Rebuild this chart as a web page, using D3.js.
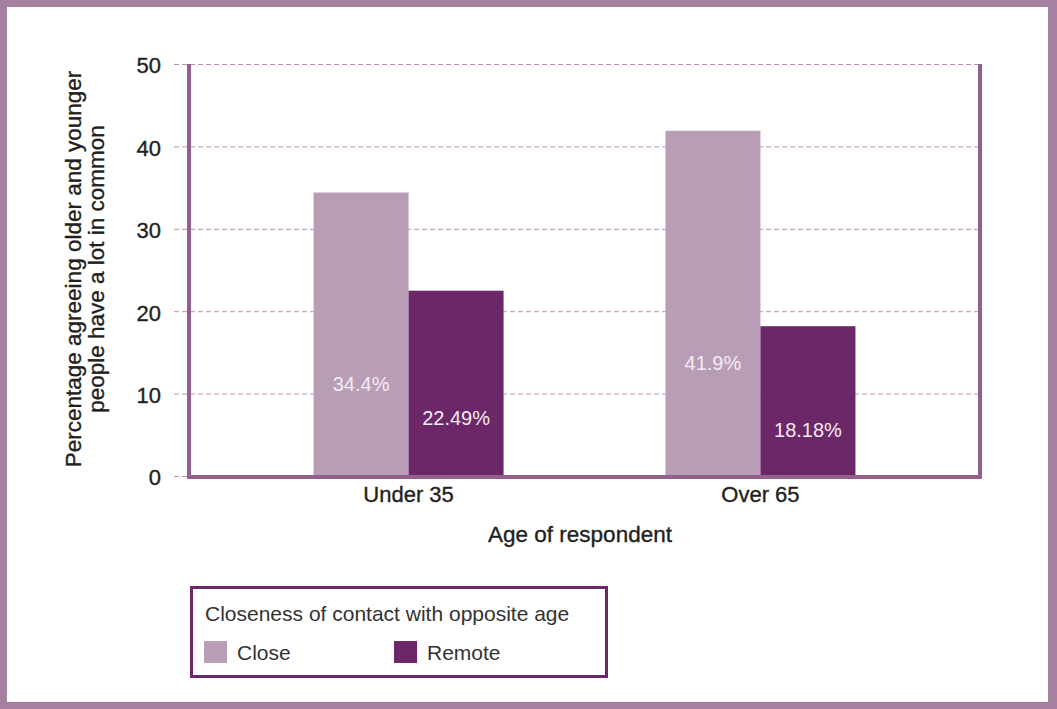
<!DOCTYPE html>
<html>
<head>
<meta charset="utf-8">
<script src="https://cdn.jsdelivr.net/npm/d3@7"></script>
<style>
  html, body { margin: 0; padding: 0; background: #fff; }
  svg { display: block; }
  text { font-family: "Liberation Sans", Arial, Helvetica, sans-serif; }
</style>
</head>
<body>
<svg id="chart" width="1057" height="709"></svg>
<script>
// Age groups on the x axis
const categories = ["Under 35", "Over 65"];
// Closeness of contact with the opposite age group
const seriesNames = ["Close", "Remote"];
// Percentage agreeing older and younger people have a lot in common
const closeValues = [34.4, 41.9];
const remoteValues = [22.49, 18.18];
const valueLabels = [["34.4%", "22.49%"], ["41.9%", "18.18%"]];
const yTicks = [0, 10, 20, 30, 40, 50];

const colors = { Close: "#b89db6", Remote: "#6b2767" };
const frameColor = "#935f8e";
const gridColor = "#b893b4";
const inkColor = "#231f20";

const W = 1057, H = 709;
const plot = { left: 189, right: 980, top: 64, bottom: 476 };

const svg = d3.select("#chart");

// page frame
svg.append("rect").attr("x", 0).attr("y", 0).attr("width", W).attr("height", H).attr("fill", "#a6819f");
svg.append("rect").attr("x", 7).attr("y", 7).attr("width", 1041).attr("height", 695).attr("fill", "#ffffff");

const rows = categories.map((c, i) => ({
  category: c,
  values: [
    { key: "Close", value: closeValues[i], label: valueLabels[i][0] },
    { key: "Remote", value: remoteValues[i], label: valueLabels[i][1] }
  ]
}));

const y = d3.scaleLinear().domain([0, 50]).range([plot.bottom, plot.top]);
const x0 = d3.scaleBand().domain(categories).range([plot.left, plot.right])
  .paddingInner(0.46).paddingOuter(0.354);
const x1 = d3.scaleBand().domain(seriesNames).range([0, x0.bandwidth()]).padding(0);

// dashed gridlines with tick labels
const gridLeft = 174;
const yAxis = d3.axisLeft(y).tickValues(yTicks).tickFormat(d3.format("d"))
  .tickSize(-(plot.right - gridLeft)).tickPadding(13);
const gy = svg.append("g").attr("transform", `translate(${gridLeft},0)`).call(yAxis);
gy.select(".domain").remove();
gy.selectAll(".tick line")
  .attr("stroke", gridColor).attr("stroke-width", 1).attr("stroke-dasharray", "5,3");
gy.selectAll(".tick text")
  .attr("fill", inkColor).attr("stroke", inkColor).attr("stroke-width", 0.35)
  .attr("font-size", 22).attr("dy", "0.4em")
  .style("font-family", "'Liberation Sans', Arial, sans-serif");

// bars
const groups = svg.append("g").selectAll("g").data(rows).join("g")
  .attr("transform", d => `translate(${x0(d.category)},0)`);

groups.selectAll("rect").data(d => d.values).join("rect")
  .attr("x", d => x1(d.key))
  .attr("y", d => y(d.value))
  .attr("width", x1.bandwidth())
  .attr("height", d => y(0) - y(d.value))
  .attr("fill", d => colors[d.key]);

// value labels inside the bars, a third of the way up
groups.selectAll("text.val").data(d => d.values).join("text")
  .attr("class", "val")
  .attr("x", d => x1(d.key) + x1.bandwidth() / 2)
  .attr("y", d => y(d.value * 0.347 - 0.75))
  .attr("dy", "0.36em")
  .attr("text-anchor", "middle")
  .attr("font-size", 20)
  .attr("fill", "#f4ecf3")
  .text(d => d.label);

// plot frame: left, bottom and right rules
const frame = svg.append("g").attr("stroke", frameColor).attr("stroke-width", 4).attr("fill", "none");
frame.append("line").attr("x1", plot.left).attr("x2", plot.left).attr("y1", plot.top).attr("y2", plot.bottom + 3);
frame.append("line").attr("x1", plot.left - 2).attr("x2", plot.right + 2).attr("y1", plot.bottom + 1).attr("y2", plot.bottom + 1);
frame.append("line").attr("x1", plot.right).attr("x2", plot.right).attr("y1", plot.top).attr("y2", plot.bottom + 3);

// category labels
const xAxis = d3.axisBottom(x0).tickSize(0).tickPadding(0);
const gx = svg.append("g").attr("transform", `translate(0,${plot.bottom})`).call(xAxis);
gx.select(".domain").remove();
gx.selectAll(".tick text")
  .attr("y", 26).attr("dy", 0)
  .attr("fill", inkColor).attr("stroke", inkColor).attr("stroke-width", 0.35)
  .attr("font-size", 22)
  .style("font-family", "'Liberation Sans', Arial, sans-serif");

// axis titles
svg.append("text")
  .attr("x", 580).attr("y", 542)
  .attr("text-anchor", "middle").attr("font-size", 22.5)
  .attr("fill", inkColor).attr("stroke", inkColor).attr("stroke-width", 0.35)
  .text("Age of respondent");

const yTitle = svg.append("text")
  .attr("transform", "translate(81,269) rotate(-90)")
  .attr("text-anchor", "middle").attr("font-size", 22.5)
  .attr("fill", inkColor).attr("stroke", inkColor).attr("stroke-width", 0.35);
yTitle.append("tspan").attr("x", 0).attr("y", 0).text("Percentage agreeing older and younger");
yTitle.append("tspan").attr("x", 0).attr("y", 23).text("people have a lot in common");

// legend
const legend = svg.append("g");
legend.append("rect").attr("x", 191.5).attr("y", 587.5).attr("width", 415).attr("height", 89)
  .attr("fill", "#fff").attr("stroke", "#6b2767").attr("stroke-width", 3);
legend.append("text").attr("x", 205).attr("y", 621).attr("font-size", 21).attr("fill", "#333")
  .text("Closeness of contact with opposite age");
const legendX = { Close: 204, Remote: 394 };
const items = legend.selectAll("g.item").data(seriesNames).join("g").attr("class", "item")
  .attr("transform", d => `translate(${legendX[d]},641)`);
items.append("rect").attr("width", 23).attr("height", 22).attr("fill", d => colors[d]);
items.append("text").attr("x", 33).attr("y", 19).attr("font-size", 21).attr("fill", "#333").text(d => d);
</script>
</body>
</html>
